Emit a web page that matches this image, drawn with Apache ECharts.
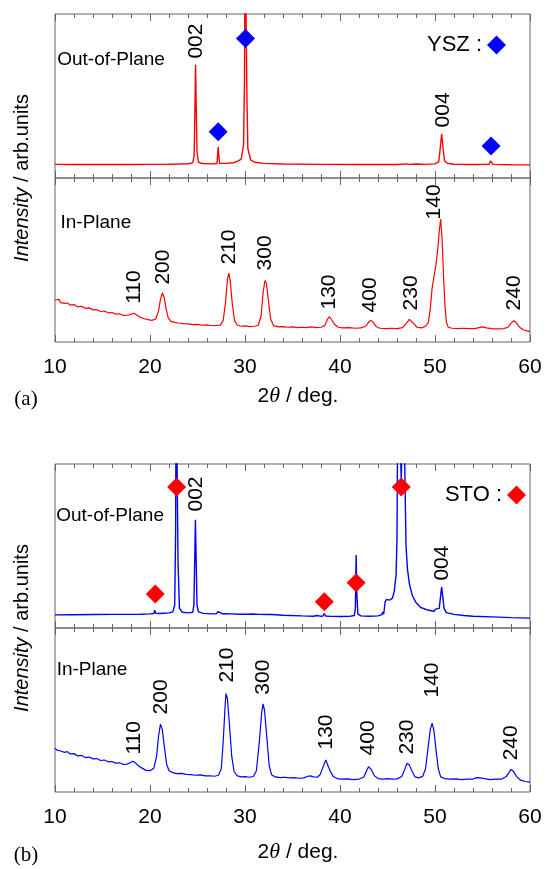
<!DOCTYPE html>
<html>
<head>
<meta charset="utf-8">
<script src="https://cdn.jsdelivr.net/npm/echarts@6/dist/echarts.min.js"></script>
<style>
  html, body { margin: 0; padding: 0; background: #fff; }
  #chart { width: 547px; height: 869px; }
</style>
</head>
<body>
<div id="chart"></div>
<script>
// x range / ticks
var xMin = 10, xMax = 60, xStep = 10;

// (a) out-of-plane, red
var outPlaneA = [[10,8.3],[12,8.2],[14,8.3],[16,8.2],[18,8.2],[20,8.3],[22,8.4],[23,8.5],[24,8.7],[24.5,9.2],[24.65,14],[24.75,50],[24.8,69],[24.85,50],[24.95,16],[25.1,9.6],[25.5,8.8],[26.5,8.6],[27.05,8.8],[27.12,14],[27.18,19],[27.24,14],[27.32,8.9],[28,8.9],[28.8,9.3],[29.0,10.2],[29.3,10.4],[29.6,11.5],[29.85,20],[29.95,60],[30.0,160],[30.1,160],[30.2,50],[30.3,18],[30.6,11],[31,9.6],[32,8.9],[34,8.5],[38,8.3],[42,8.2],[46,8.2],[47,8.6],[47.3,8.3],[48,8.5],[49,8.3],[50,8.6],[50.4,10],[50.55,18],[50.7,27],[50.85,18],[51.0,10.5],[51.3,9],[52,8.4],[54,8.2],[55.7,8.3],[55.85,10.5],[55.95,10.5],[56.1,8.3],[58,8.1],[60,8.0]];

// (a) in-plane, red
var inPlaneA = [[10,25.6],[10.2,24.5],[10.4,26],[10.6,24],[10.8,24.8],[11,23.5],[11.3,23.8],[11.6,22.5],[12,22.8],[12.4,21.4],[12.8,21.8],[13.2,20.5],[13.6,20.8],[14,19.6],[14.4,19.8],[14.8,18.6],[15.2,18.9],[15.6,17.8],[16,18],[16.4,17],[16.8,17.2],[17.2,16.2],[17.6,16.3],[18.0,16.8],[18.3,17.6],[18.6,16.5],[19,15],[19.4,14.2],[19.8,13.6],[20.2,13.2],[20.6,14],[20.9,19],[21.1,26],[21.3,30],[21.5,27],[21.7,20],[21.9,15],[22.2,12.6],[22.6,12],[23,11.6],[23.5,11.2],[24,11],[24.5,10.6],[25,10.8],[25.5,10.2],[26,10.4],[26.5,9.9],[27,10.1],[27.4,10.3],[27.7,13],[27.95,24],[28.15,38],[28.3,42],[28.45,37],[28.65,24],[28.9,13],[29.2,10.2],[29.6,9.6],[30,9.8],[30.5,9.4],[31,9.6],[31.4,10.2],[31.7,16],[31.9,30],[32.1,37.5],[32.25,36],[32.45,26],[32.7,14],[33,10],[33.5,9.2],[34,9.4],[34.5,9],[35,9.2],[35.5,8.8],[36,9],[36.5,8.8],[37,9.2],[37.5,8.8],[38,9],[38.4,10],[38.7,14],[38.9,15.4],[39.1,14.5],[39.4,11],[39.8,9],[40.3,8.6],[41,8.8],[41.6,8.4],[42.2,8.6],[42.7,9.6],[43.0,12],[43.25,13.2],[43.5,12],[43.8,9.5],[44.2,8.4],[44.8,8.2],[45.4,8.4],[46,8.2],[46.6,8.8],[47.0,11.5],[47.3,13.8],[47.5,13.2],[47.8,11],[48.1,9],[48.6,8.6],[49.0,9.6],[49.3,12],[49.5,20],[49.7,33],[49.9,40],[50.1,47],[50.3,57],[50.45,68],[50.6,75],[50.75,62],[50.9,40],[51.05,22],[51.2,12],[51.4,9],[51.8,8.4],[52.4,8.2],[53,8.4],[53.6,8.1],[54.2,8.2],[54.6,8.8],[55,9.2],[55.4,8.6],[56,8.2],[56.6,8],[57.2,8.2],[57.7,9],[58.0,11.5],[58.3,13],[58.6,11.5],[58.9,9],[59.3,7.5],[59.7,6.8],[60,6.3]];

// (b) out-of-plane, blue
var outPlaneB = [[10,8],[12,8.1],[14,8.2],[16,8.3],[18,8.3],[19,8.4],[20,8.6],[20.4,8.8],[20.5,10.8],[20.6,8.9],[21,8.8],[21.5,9],[22,9.2],[22.4,9.8],[22.6,14],[22.7,60],[22.75,160],[22.85,160],[22.95,40],[23.1,12],[23.4,9.6],[24,9.2],[24.5,9.6],[24.62,14],[24.72,45],[24.78,66],[24.85,45],[24.95,14],[25.1,9.8],[25.6,8.9],[26.5,8.6],[27.0,8.7],[27.15,10],[27.3,8.8],[27.6,8.7],[27.8,9.8],[27.95,8.7],[28.5,8.6],[29.5,8.4],[30.4,8.4],[30.6,9.4],[30.8,8.5],[31.5,8.3],[32.4,8.2],[32.6,8.7],[32.8,8.2],[34,7.8],[36,7.4],[37.2,7.2],[37.6,7.6],[37.9,7.2],[38.2,7.3],[38.35,8.8],[38.5,7.3],[39,7.1],[40,7],[41,7.1],[41.5,7.6],[41.62,12],[41.7,44.5],[41.78,20],[41.88,8.6],[42.2,7.4],[43,7.2],[44,7.4],[44.4,8.2],[44.5,9.8],[44.6,8.4],[44.75,16],[44.9,17.5],[45.2,17],[45.5,18],[45.7,22],[45.9,32],[46.0,55],[46.1,160],[46.25,160],[46.45,90],[46.65,160],[46.8,160],[46.95,50],[47.1,36],[47.3,27],[47.6,20],[48.0,15.5],[48.5,12.5],[49.2,11],[49.9,10.2],[50.05,11.5],[50.2,10.5],[50.45,12],[50.6,20],[50.7,25],[50.8,20],[50.95,12],[51.2,9.4],[52,8.3],[53,7.6],[54,7.2],[56,6.8],[58,6.3],[60,6]];

// (b) in-plane, blue
var inPlaneB = [[10,26.8],[10.2,25.5],[10.4,26.2],[10.6,25],[10.8,25.4],[11,24.2],[11.3,24.6],[11.6,23.2],[12,23.4],[12.4,22],[12.8,22.3],[13.2,21],[13.6,21.3],[14,20.2],[14.4,20.4],[14.8,19.2],[15.2,19.5],[15.6,18.4],[16,18.6],[16.4,17.6],[16.8,17.8],[17.2,16.8],[17.6,17],[17.9,17.8],[18.2,18.8],[18.5,17.6],[18.8,15.8],[19.2,14.4],[19.6,13.2],[20.0,13],[20.4,14.5],[20.7,22],[20.9,34],[21.1,41.4],[21.3,38],[21.5,28],[21.75,17],[22.0,13],[22.4,11.8],[22.8,11.2],[23.3,11.4],[23.8,10.8],[24.3,10.6],[24.8,10.2],[25.3,10.4],[25.8,9.8],[26.3,9.9],[26.8,9.6],[27.2,10.2],[27.5,14],[27.7,30],[27.9,52],[28.0,60],[28.15,57],[28.35,42],[28.6,22],[28.85,12.5],[29.2,9.8],[29.6,9.2],[30,9.4],[30.5,9],[30.9,9.6],[31.2,13],[31.5,30],[31.75,48],[31.9,53.7],[32.05,50],[32.3,33],[32.55,16],[32.8,10.5],[33.2,9.2],[33.7,8.8],[34.2,9],[34.7,8.6],[35.2,8.8],[35.7,8.4],[36.2,8.6],[36.6,9.6],[36.9,9.8],[37.2,9.2],[37.6,9],[37.9,10.5],[38.2,15],[38.5,19.5],[38.7,18.5],[38.95,13],[39.3,9.4],[39.7,8.2],[40.2,7.8],[40.8,8],[41.4,7.6],[42,7.9],[42.5,9],[42.8,13],[43.0,15.4],[43.3,13.6],[43.6,10],[44,8.2],[44.5,7.9],[45.0,8.2],[45.5,7.8],[46,8],[46.5,9.4],[46.8,13.5],[47.05,17.5],[47.3,16.5],[47.6,12.5],[47.9,9.2],[48.3,8.6],[48.7,9.5],[49.0,14],[49.25,26],[49.5,38],[49.7,42],[49.9,37],[50.1,26],[50.35,14],[50.6,9.2],[51,8.2],[51.6,7.8],[52.2,8],[52.8,7.6],[53.4,7.8],[54,7.9],[54.4,8.8],[54.8,8.6],[55.2,8.2],[55.8,7.6],[56.4,7.8],[57,7.8],[57.5,9.4],[57.8,12],[58.0,13.8],[58.25,12.6],[58.6,9.4],[59,7.2],[59.5,6.4],[60,6]];

// substrate peak markers
var yszMarks = [[27.18,28.2],[30.05,85],[55.9,19.5]];
var stoMarks = [[20.55,20.7],[22.8,86],[38.35,16],[41.7,27.6],[46.45,86]];

// peak index labels: [text, x, y]
var labelsOutA = [['002',24.9,83.5],['004',50.85,41.5]];
var labelsInA = [['110',18.35,33.5],['200',21.35,45.7],['210',28.3,57.9],['300',32.1,54.3],['130',38.9,30.5],['400',43.2,28.7],['230',47.5,29.9],['140',49.9,85.4],['240',58.3,29.9]];
var labelsOutB = [['002',24.9,81.7],['004',50.8,39.6]];
var labelsInB = [['110',18.3,33],['200',21.2,58],['210',28.1,77.4],['300',31.9,70],['130',38.6,36.6],['400',43.0,33],['230',47.1,33.5],['140',49.7,68.3],['240',58.0,30]];
var panelTitles = [['Out-of-Plane',15.9,72],['In-Plane',14.3,72.6],['Out-of-Plane',15.8,68.3],['In-Plane',13.9,74.4]];

var RED = '#ff0000', BLUE = '#0000ff', FRAME = '#666666', INK = '#000000';
var FONT = 'Liberation Sans, Arial';
var tops = [14, 178, 464, 628];

var chart = echarts.init(document.getElementById('chart'));

var grids = [], xAxes = [], yAxes = [];
tops.forEach(function (t, i) {
    grids.push({left: 55, width: 475, top: t, height: 164, show: true,
        borderColor: FRAME, borderWidth: 1, backgroundColor: 'transparent'});
    ['bottom', 'top'].forEach(function (pos) {
        xAxes.push({
            type: 'value', gridIndex: i, position: pos,
            min: xMin, max: xMax, interval: xStep,
            axisLine: {show: false},
            axisTick: {show: true, inside: true, length: 7, lineStyle: {color: FRAME, width: 1}},
            minorTick: {show: true, splitNumber: 5, length: 4, lineStyle: {color: FRAME, width: 1}},
            splitLine: {show: false},
            axisLabel: {show: pos === 'bottom' && (i === 1 || i === 3), margin: 15,
                fontSize: 21, color: INK, fontFamily: FONT}
        });
    });
    yAxes.push({type: 'value', gridIndex: i, min: 0, max: 100, show: false});
});

function lineSeries(data, gi, color, w) {
    return {type: 'line', xAxisIndex: gi * 2, yAxisIndex: gi, data: data,
        showSymbol: false, symbol: 'none', clip: true, silent: true,
        lineStyle: {color: color, width: w}, z: 2};
}
function markSeries(name, data, gi, color) {
    return {name: name, type: 'scatter', xAxisIndex: gi * 2, yAxisIndex: gi, data: data,
        symbol: 'diamond', symbolSize: 19, itemStyle: {color: color, opacity: 1}, silent: true, z: 5};
}
function labelSeries(list, gi, rotate, size) {
    return {type: 'scatter', xAxisIndex: gi * 2, yAxisIndex: gi, symbolSize: 0, silent: true, z: 6,
        itemStyle: {opacity: 1},
        data: list.map(function (d) { return {name: d[0], value: [d[1], d[2]]}; }),
        label: {show: true, position: 'inside', rotate: rotate, formatter: '{b}',
            fontSize: size, color: INK, fontFamily: FONT}};
}

var series = [
    lineSeries(outPlaneA, 0, RED, 1.4),
    lineSeries(inPlaneA, 1, RED, 1.2),
    lineSeries(outPlaneB, 2, BLUE, 1.4),
    lineSeries(inPlaneB, 3, BLUE, 1.2),
    markSeries('YSZ :', yszMarks, 0, BLUE),
    markSeries('STO :', stoMarks, 2, RED),
    labelSeries(labelsOutA, 0, 90, 21),
    labelSeries(labelsInA, 1, 90, 21),
    labelSeries(labelsOutB, 2, 90, 21),
    labelSeries(labelsInB, 3, 90, 21)
];
panelTitles.forEach(function (p, i) {
    series.push(labelSeries([p], i, 0, 19));
});

function yTitle(cy) {
    return {type: 'text', x: 22, y: cy, rotation: Math.PI / 2,
        style: {text: '{i|Intensity} / arb.units', align: 'center', verticalAlign: 'middle',
            fontSize: 20, fill: INK, fontFamily: FONT,
            rich: {i: {fontStyle: 'italic', fontSize: 20, fill: INK, fontFamily: FONT}}}};
}
function xTitle(cy) {
    return {type: 'text', x: 298, y: cy,
        style: {text: '2{i|θ} / deg.', align: 'center', verticalAlign: 'middle',
            fontSize: 21, fill: INK, fontFamily: FONT,
            rich: {i: {fontStyle: 'italic', fontSize: 22, fill: INK, fontFamily: 'Liberation Serif, serif'}}}};
}
function tag(text, cy) {
    return {type: 'text', x: 26, y: cy,
        style: {text: text, align: 'center', verticalAlign: 'middle',
            fontSize: 21, fill: INK, fontFamily: 'Liberation Serif, serif'}};
}

var option = {
    animation: false,
    backgroundColor: '#fff',
    grid: grids,
    xAxis: xAxes,
    yAxis: yAxes,
    legend: [
        {data: ['YSZ :'], right: 36, top: 29, align: 'right', itemWidth: 19, itemHeight: 19,
            selectedMode: false, textStyle: {fontSize: 22, color: INK, fontFamily: FONT}},
        {data: ['STO :'], right: 16, top: 479, align: 'right', itemWidth: 19, itemHeight: 19,
            selectedMode: false, textStyle: {fontSize: 22, color: INK, fontFamily: FONT}}
    ],
    graphic: [yTitle(178), yTitle(628), xTitle(396), xTitle(852), tag('(a)', 399), tag('(b)', 855)],
    series: series
};

chart.setOption(option);
window.addEventListener('resize', function () {
    chart.resize();
});
</script>
</body>
</html>
